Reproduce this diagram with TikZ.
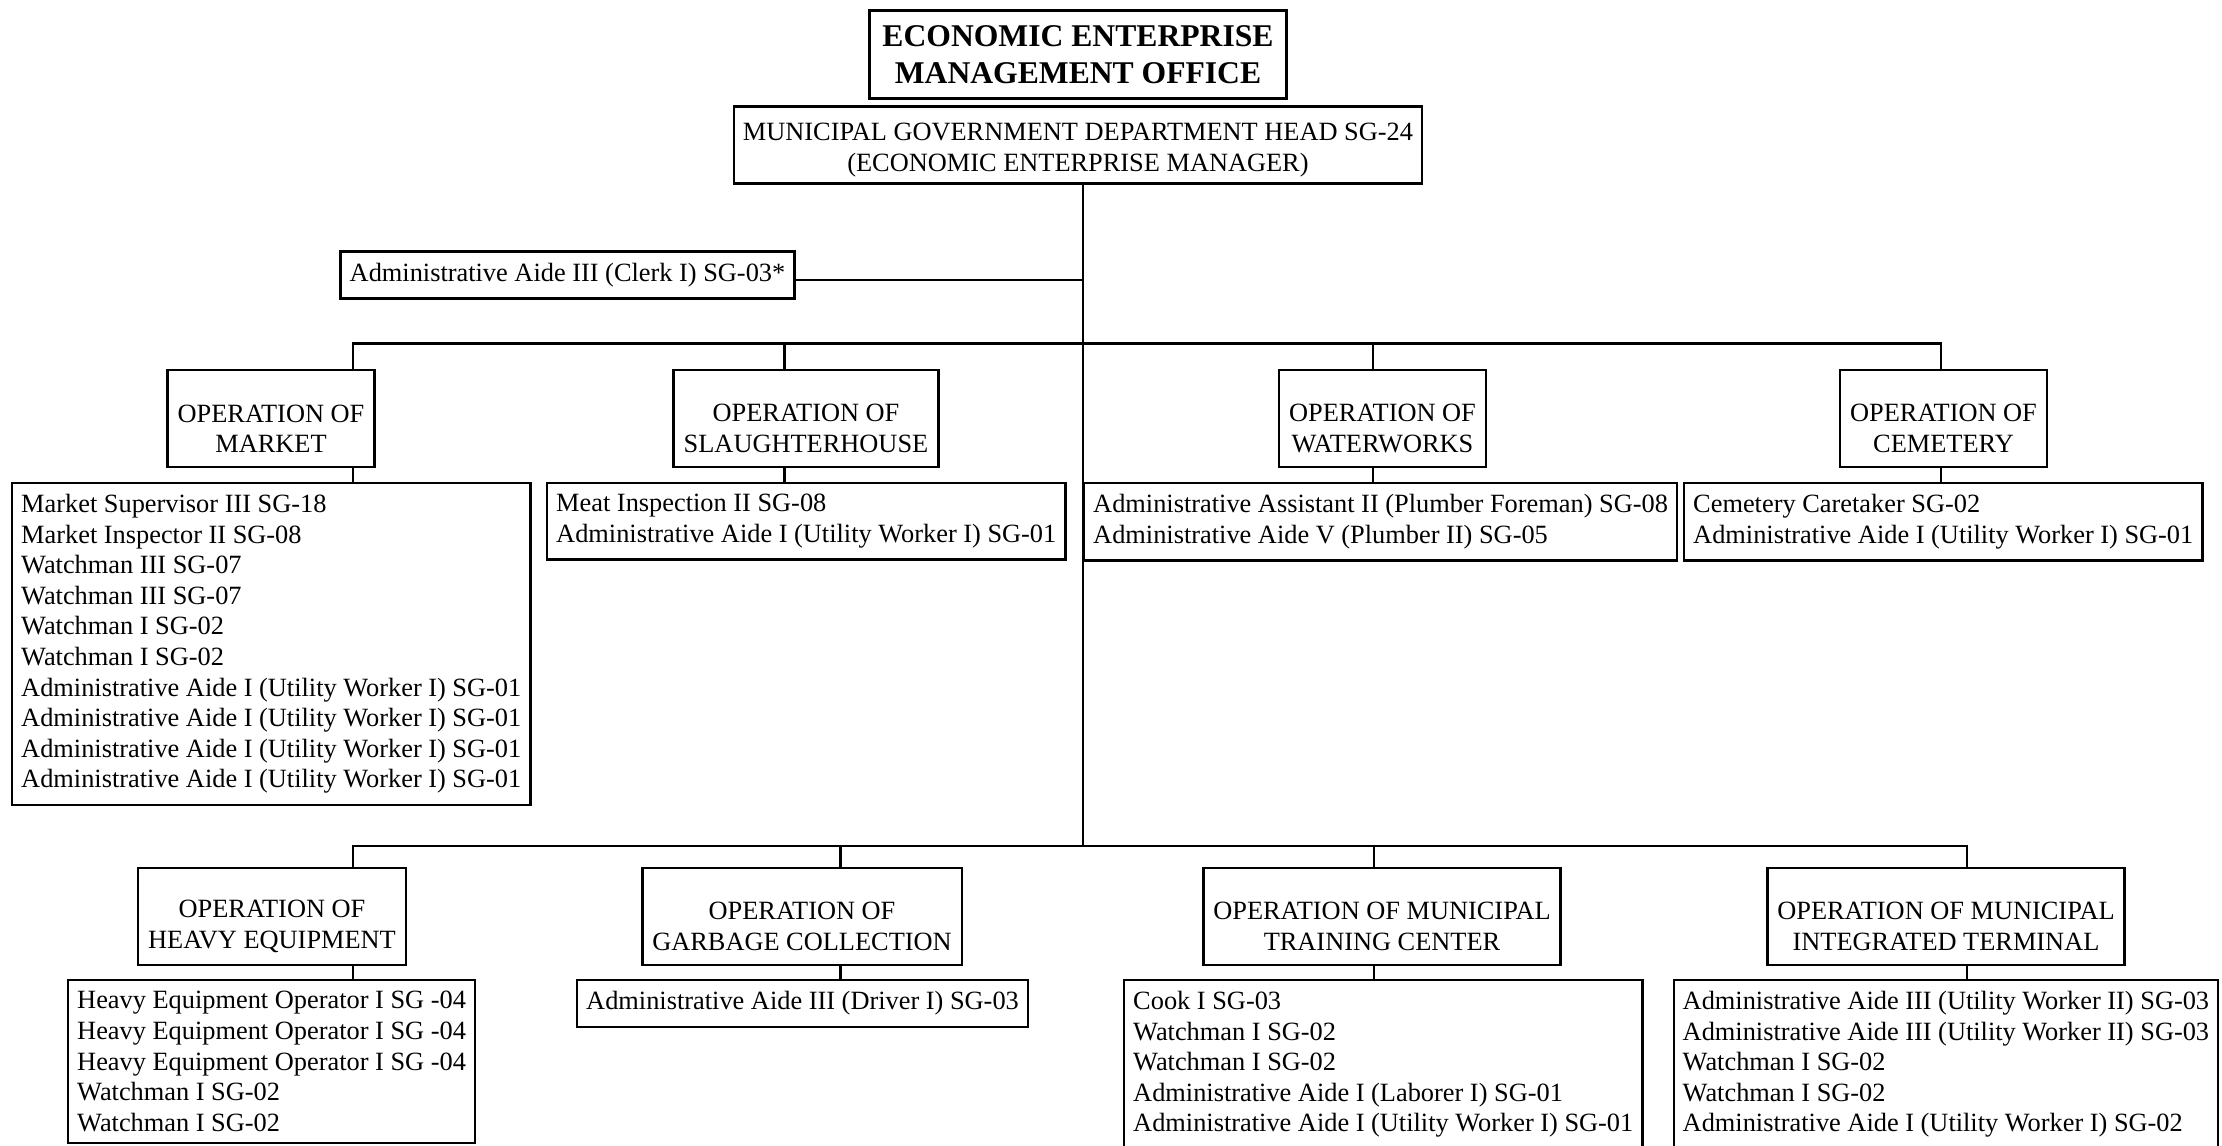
\documentclass[tikz,border=0pt]{standalone}
\usepackage{fontspec}
\setmainfont{Liberation Serif}
\newcommand{\hgap}{\rule{0pt}{7.9pt}}
\newcommand{\ogap}{\rule{0pt}{10.7pt}}
\begin{document}
\begin{tikzpicture}[
    box/.style={
        draw, line width=0.7pt, fill=white,
        inner xsep=0.09cm, inner ysep=0.115cm,
        font=\fontsize{7.5}{8.7}\selectfont
    },
    titlebox/.style={box, align=center, inner xsep=0.13cm, inner ysep=0.15cm,
        font=\fontsize{9}{10.4}\selectfont\bfseries},
    headbox/.style={box, align=center, inner ysep=1.85pt},
    opbox/.style={box, align=center, minimum height=0.97cm, inner xsep=0.1cm},
    listbox/.style={box, align=left, anchor=north west},
    link/.style={line width=0.6pt},
]
\useasboundingbox (0,0) rectangle (22.22,-11.46);
\clip (0,0) rectangle (22.22,-11.46);

% top of the chart
\node [titlebox] (title) at (10.78,-0.545) {ECONOMIC ENTERPRISE\\MANAGEMENT OFFICE};
\node [headbox] (head) at (10.78,-1.45) {\hgap MUNICIPAL GOVERNMENT DEPARTMENT HEAD SG-24\\(ECONOMIC ENTERPRISE MANAGER)};
\node [box] (clerk) at (5.675,-2.75) {Administrative Aide III (Clerk I) SG-03*};

% trunk and branch points, y = -3.435 / -8.46
\coordinate (tb) at (10.83,-8.46);
\coordinate (m1) at (3.53,-3.435);
\coordinate (m2) at (7.845,-3.435);
\coordinate (m3) at (13.73,-3.435);
\coordinate (m4) at (19.41,-3.435);
\coordinate (n1) at (3.53,-8.46);
\coordinate (n2) at (8.405,-8.46);
\coordinate (n3) at (13.74,-8.46);
\coordinate (n4) at (19.67,-8.46);

% first row
\node [opbox] (market) at (2.71,-4.185) {\ogap OPERATION OF\\MARKET};
\node [opbox] (slaughter) at (8.06,-4.185) {\ogap OPERATION OF\\SLAUGHTERHOUSE};
\node [opbox] (water) at (13.825,-4.185) {\ogap OPERATION OF\\WATERWORKS};
\node [opbox] (cemetery) at (19.435,-4.185) {\ogap OPERATION OF\\CEMETERY};

\node [listbox] (marketlist) at (0.11,-4.816) {Market Supervisor III SG-18\\
    Market Inspector II SG-08\\
    Watchman III SG-07\\
    Watchman III SG-07\\
    Watchman I SG-02\\
    Watchman I SG-02\\
    Administrative Aide I (Utility Worker I) SG-01\\
    Administrative Aide I (Utility Worker I) SG-01\\
    Administrative Aide I (Utility Worker I) SG-01\\
    Administrative Aide I (Utility Worker I) SG-01};
\node [listbox] (slaughterlist) at (5.46,-4.816) {Meat Inspection II SG-08\\
    Administrative Aide I (Utility Worker I) SG-01};
\node [listbox] (waterlist) at (10.83,-4.816) {Administrative Assistant II (Plumber Foreman) SG-08\\
    Administrative Aide V (Plumber II) SG-05};
\node [listbox] (cemeterylist) at (16.83,-4.816) {Cemetery Caretaker SG-02\\
    Administrative Aide I (Utility Worker I) SG-01};

% second row
\node [opbox] (heavy) at (2.72,-9.165) {\ogap OPERATION OF\\HEAVY EQUIPMENT};
\node [opbox] (garbage) at (8.02,-9.165) {\ogap OPERATION OF\\GARBAGE COLLECTION};
\node [opbox] (training) at (13.82,-9.165) {\ogap OPERATION OF MUNICIPAL\\TRAINING CENTER};
\node [opbox] (terminal) at (19.46,-9.165) {\ogap OPERATION OF MUNICIPAL\\INTEGRATED TERMINAL};

\node [listbox] (heavylist) at (0.67,-9.786) {Heavy Equipment Operator I SG -04\\
    Heavy Equipment Operator I SG -04\\
    Heavy Equipment Operator I SG -04\\
    Watchman I SG-02\\
    Watchman I SG-02};
\node [listbox] (garbagelist) at (5.76,-9.786) {Administrative Aide III (Driver I) SG-03};
\node [listbox] (traininglist) at (11.23,-9.786) {Cook I SG-03\\
    Watchman I SG-02\\
    Watchman I SG-02\\
    Administrative Aide I (Laborer I) SG-01\\
    Administrative Aide I (Utility Worker I) SG-01};
\node [listbox] (terminallist) at (16.725,-9.786) {Administrative Aide III (Utility Worker II) SG-03\\
    Administrative Aide III (Utility Worker II) SG-03\\
    Watchman I SG-02\\
    Watchman I SG-02\\
    Administrative Aide I (Utility Worker I) SG-02};

% connectors
\draw[link] (head.south -| tb) -- (tb);
\draw[link] ([yshift=-0.05cm]clerk.east) -- ([yshift=-0.05cm]clerk.east -| tb);

\draw[link] (m1 |- market.north) -- (m1) -- (m4) -- (m4 |- cemetery.north);
\draw[link] (m2) -- (m2 |- slaughter.north);
\draw[link] (m3) -- (m3 |- water.north);
\draw[link] (m1 |- market.south) -- (m1 |- marketlist.north);
\draw[link] (m2 |- slaughter.south) -- (m2 |- slaughterlist.north);
\draw[link] (m3 |- water.south) -- (m3 |- waterlist.north);
\draw[link] (m4 |- cemetery.south) -- (m4 |- cemeterylist.north);

\draw[link] (n1 |- heavy.north) -- (n1) -- (n4) -- (n4 |- terminal.north);
\draw[link] (n2) -- (n2 |- garbage.north);
\draw[link] (n3) -- (n3 |- training.north);
\draw[link] (n1 |- heavy.south) -- (n1 |- heavylist.north);
\draw[link] (n2 |- garbage.south) -- (n2 |- garbagelist.north);
\draw[link] (n3 |- training.south) -- (n3 |- traininglist.north);
\draw[link] (n4 |- terminal.south) -- (n4 |- terminallist.north);

\end{tikzpicture}
\end{document}
